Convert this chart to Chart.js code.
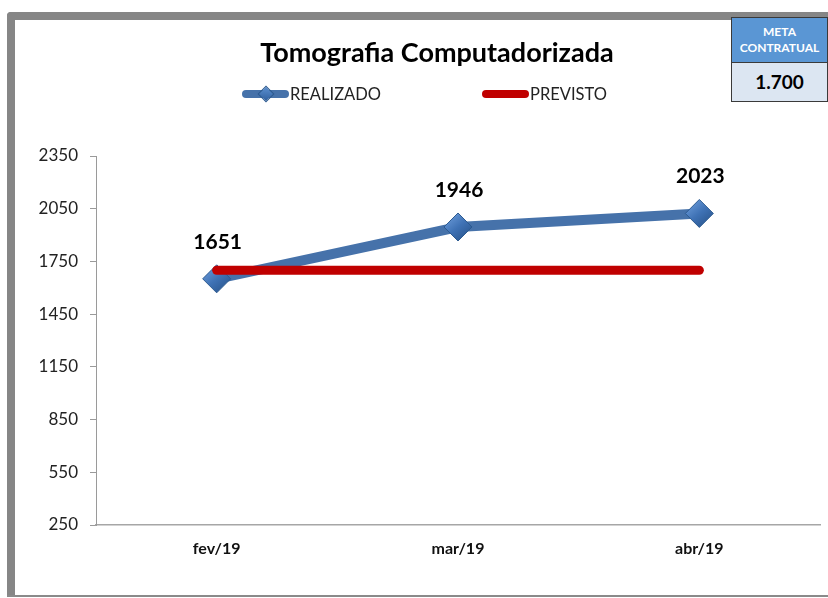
<!DOCTYPE html>
<html>
<head>
<meta charset="utf-8">
<script src="https://cdn.jsdelivr.net/npm/chart.js@4/dist/chart.umd.min.js"></script>
<style>
  html, body { margin: 0; padding: 0; background: #fff; }
  body { width: 828px; height: 598px; position: relative; overflow: hidden; font-family: Lato, "Open Sans", sans-serif; }
  .frame-top { position: absolute; left: 7px; top: 12px; width: 821px; height: 8px; background: #868686; border-top-left-radius: 4px; }
  .frame-left { position: absolute; left: 7px; top: 12px; width: 8px; height: 585px; background: #868686; border-top-left-radius: 4px; }
  .frame-bottom { position: absolute; left: 7px; top: 595px; width: 821px; height: 2px; background: #8a8a8a; }
  #wrap { position: absolute; left: 0; top: 0; width: 828px; height: 598px; }
  .title { position: absolute; left: 0; width: 874px; top: 35px; text-align: center; font-weight: bold; font-size: 27px; color: #000; line-height: 34px; }
  .leg { position: absolute; top: 84px; font-size: 16.5px; color: #222; line-height: 20px; }
  .meta { position: absolute; left: 731px; top: 17px; width: 95px; height: 83px; border: 1px solid #3a3a3a; box-sizing: content-box; }
  .meta .hd { height: 45px; background: #5a96d4; color: #fff; font-weight: bold; font-size: 12px; text-align: center; line-height: 16px; padding-top: 6px; box-sizing: border-box; border-bottom: 1px solid #3a3a3a; }
  .meta .bd { height: 38px; background: #dce6f2; color: #000; font-weight: bold; font-size: 19px; text-align: center; line-height: 37px; }
</style>
</head>
<body>
<div class="frame-top"></div>
<div class="frame-left"></div>
<div class="frame-bottom"></div>
<div id="wrap"><canvas id="c" width="828" height="598"></canvas></div>
<div class="title" id="title"></div>
<div class="leg" id="leg1" style="left:242px;"></div>
<div class="leg" id="leg2" style="left:482px;"></div>
<div class="meta"><div class="hd" id="metaHd"></div><div class="bd" id="metaVal"></div></div>
<script>
const chartTitle = "Tomografia Computadorizada";
const categories = ["fev/19", "mar/19", "abr/19"];
const realizadoLabel = "REALIZADO";
const previstoLabel = "PREVISTO";
const realizado = [1651, 1946, 2023];
const previsto = [1700, 1700, 1700];
const yTicks = [250, 550, 850, 1150, 1450, 1750, 2050, 2350];
const metaHeader = ["META", "CONTRATUAL"];
const metaValue = "1.700";

document.getElementById('title').textContent = chartTitle;
document.getElementById('metaHd').innerHTML = metaHeader.join('<br>');
document.getElementById('metaVal').textContent = metaValue;

function legendItem(el, label, color, diamond) {
  el.innerHTML = '';
  const icon = document.createElement('span');
  icon.style.cssText = 'position:relative;display:inline-block;width:48px;height:20px;vertical-align:top;';
  const bar = document.createElement('span');
  bar.style.cssText = 'position:absolute;left:0;top:6px;width:47px;height:8px;border-radius:4px;background:' + color + ';';
  icon.appendChild(bar);
  if (diamond) {
    const d = document.createElement('span');
    d.style.cssText = 'position:absolute;left:18px;top:4px;width:12px;height:12px;transform:rotate(45deg);background:linear-gradient(135deg,#5b8fd0,#2f5f9e);border:1px solid #2c5a90;box-sizing:border-box;';
    icon.appendChild(d);
  }
  el.appendChild(icon);
  const t = document.createElement('span');
  t.textContent = label;
  el.appendChild(t);
}
legendItem(document.getElementById('leg1'), realizadoLabel, '#4672aa', true);
legendItem(document.getElementById('leg2'), previstoLabel, '#c00000', false);

const dataLabels = {
  id: 'dataLabels',
  afterDatasetsDraw(chart) {
    const ctx = chart.ctx;
    const meta = chart.getDatasetMeta(0);
    ctx.save();
    ctx.font = 'bold 21px Lato, "Open Sans", sans-serif';
    ctx.fillStyle = '#000';
    ctx.textAlign = 'center';
    ctx.textBaseline = 'middle';
    meta.data.forEach((pt, i) => {
      ctx.fillText(String(chart.data.datasets[0].data[i]), pt.x + 1, pt.y - 37);
    });
    ctx.restore();
  }
};

function markerFill(context) {
  const chart = context.chart;
  const el = context.element;
  if (!el || el.x === undefined || isNaN(el.y)) return '#4a7cbf';
  const g = chart.ctx.createLinearGradient(el.x - 10, el.y - 12, el.x + 10, el.y + 12);
  g.addColorStop(0, '#6a9ad8');
  g.addColorStop(0.5, '#3f72b5');
  g.addColorStop(1, '#2a568e');
  return g;
}

new Chart(document.getElementById('c'), {
  type: 'line',
  data: {
    labels: categories,
    datasets: [
      {
        label: realizadoLabel,
        data: realizado,
        borderColor: '#4672aa',
        borderWidth: 10,
        pointStyle: 'rectRot',
        pointRadius: 14,
        pointHoverRadius: 14,
        pointBackgroundColor: markerFill,
        pointBorderColor: '#2c5a90',
        pointBorderWidth: 1,
        tension: 0,
        order: 1
      },
      {
        label: previstoLabel,
        data: previsto,
        borderColor: '#c00000',
        borderWidth: 9,
        borderCapStyle: 'round',
        pointRadius: 0,
        pointHoverRadius: 0,
        tension: 0,
        order: 0
      }
    ]
  },
  options: {
    responsive: false,
    animation: false,
    events: [],
    layout: { autoPadding: false, padding: { top: 156, left: 0, right: 8, bottom: 22 } },
    plugins: { legend: { display: false }, title: { display: false }, tooltip: { enabled: false } },
    scales: {
      x: {
        offset: true,
        grid: { display: false, drawTicks: false },
        border: { display: true, color: '#a6a6a6', width: 1.5 },
        ticks: { padding: 14, color: '#111', font: { family: 'Lato', size: 16, weight: 'bold' } },
        afterFit(s) { s.height = 51; }
      },
      y: {
        min: yTicks[0],
        max: yTicks[yTicks.length - 1],
        afterBuildTicks(s) { s.ticks = yTicks.map(v => ({ value: v })); },
        grid: { drawOnChartArea: false, drawTicks: true, tickLength: 6, color: '#9a9a9a' },
        border: { display: true, color: '#9a9a9a', width: 1 },
        ticks: { padding: 12, color: '#222', font: { family: 'Lato', size: 17 }, callback: v => String(v) },
        afterFit(s) { s.width = 96; }
      }
    }
  },
  plugins: [dataLabels]
});
</script>
</body>
</html>
